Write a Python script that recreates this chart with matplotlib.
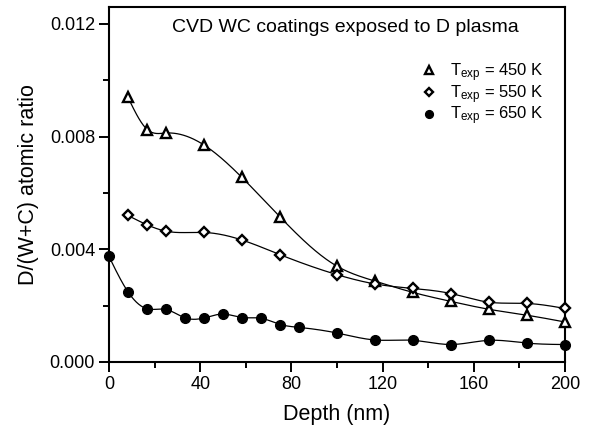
import numpy as np
import matplotlib
matplotlib.use("Agg")
import matplotlib.pyplot as plt

plt.rcParams['font.family'] = ['Liberation Sans', 'DejaVu Sans']
plt.rcParams['mathtext.fontset'] = 'custom'
plt.rcParams['mathtext.rm'] = 'Liberation Sans'
plt.rcParams['mathtext.it'] = 'Liberation Sans:italic'

# depth (nm) and D/(W+C) ratio
tri_depth = [8.3, 16.7, 25.0, 41.7, 58.3, 75.0, 100.0, 116.7, 133.3, 150.0, 166.7, 183.3, 200.0]
tri_ratio = [0.00940, 0.00825, 0.00813, 0.00770, 0.00655, 0.00515, 0.00340,
             0.00287, 0.00247, 0.00215, 0.00187, 0.00166, 0.00142]

dia_depth = [8.3, 16.7, 25.0, 41.7, 58.3, 75.0, 100.0, 116.7, 133.3, 150.0, 166.7, 183.3, 200.0]
dia_ratio = [0.00520, 0.00487, 0.00464, 0.00460, 0.00433, 0.00381, 0.00310,
             0.00277, 0.00261, 0.00243, 0.00212, 0.00208, 0.00190]

circ_depth = [0.0, 8.3, 16.7, 25.0, 33.3, 41.7, 50.0, 58.3, 66.7, 75.0, 83.3,
              100.0, 116.7, 133.3, 150.0, 166.7, 183.3, 200.0]
circ_ratio = [0.00375, 0.00249, 0.00188, 0.00188, 0.00156, 0.00156, 0.00171,
              0.00157, 0.00156, 0.00133, 0.00123, 0.00103, 0.00078, 0.00077,
              0.00062, 0.00077, 0.00067, 0.00062]

labels = [r'T$_{\rm exp}$ = 450 K', r'T$_{\rm exp}$ = 550 K', r'T$_{\rm exp}$ = 650 K']


def smooth_curve(x, y, lam, num=400):
    # penalised least squares (smoothing spline-ish) on a fine grid
    x = np.asarray(x, float)
    y = np.asarray(y, float) * 1e3
    xs = np.linspace(x.min(), x.max(), num)
    h = xs[1] - xs[0]
    A = np.zeros((len(x), num))
    for i, xi in enumerate(x):
        j = min(int((xi - xs[0]) / h), num - 2)
        t = (xi - xs[j]) / h
        A[i, j] = 1 - t
        A[i, j + 1] = t
    D = np.diff(np.eye(num), 2, axis=0) / h ** 2
    M = A.T @ A + lam * h * D.T @ D
    ys = np.linalg.solve(M, A.T @ y)
    return xs, ys / 1e3


fig = plt.figure(figsize=(5.93, 4.34), dpi=100)
ax = fig.add_axes([0.1838, 0.1659, 0.769, 0.818])

for d, r, lam in [(tri_depth, tri_ratio, 1.0), (dia_depth, dia_ratio, 5.0),
                  (circ_depth, circ_ratio, 3.0)]:
    xs, ys = smooth_curve(d, r, lam)
    ax.plot(xs, ys, color='black', lw=0.9, zorder=2)

ax.plot(tri_depth, tri_ratio, ls='none', marker='^', ms=7, mfc='white',
        mec='black', mew=1.7, label=labels[0], zorder=3, clip_on=False)
ax.plot(dia_depth, dia_ratio, ls='none', marker='D', ms=5.5, mfc='white',
        mec='black', mew=1.7, label=labels[1], zorder=3, clip_on=False)
ax.plot(circ_depth, circ_ratio, ls='none', marker='o', ms=7, mfc='black',
        mec='black', label=labels[2], zorder=3, clip_on=False)

ax.set_xlim(0, 200)
ax.set_ylim(0, 0.0126)
ax.set_xticks([0, 40, 80, 120, 160, 200])
ax.set_xticks(np.arange(20, 200, 40), minor=True)
ax.set_yticks([0.000, 0.004, 0.008, 0.012])
ax.set_yticklabels(['0.000', '0.004', '0.008', '0.012'])
ax.set_yticks([0.002, 0.006, 0.010], minor=True)
ax.tick_params(which='major', direction='out', length=7, width=1.4, labelsize=13, pad=3)
ax.tick_params(which='minor', direction='out', length=4.5, width=1.4)
for s in ax.spines.values():
    s.set_linewidth(1.5)

ax.set_xlabel('Depth (nm)', fontsize=15.5, labelpad=8)
ax.set_ylabel('D/(W+C) atomic ratio', fontsize=15.5, labelpad=8)

ax.text(0.138, 0.943, 'CVD WC coatings exposed to D plasma', transform=ax.transAxes,
        fontsize=14, va='center', ha='left')

ax.legend(frameon=False, loc='upper left', bbox_to_anchor=(0.683, 0.847),
          fontsize=12, markerscale=0.8, handlelength=1.0, handletextpad=0.8,
          labelspacing=-0.05, borderpad=0, borderaxespad=0)

fig.savefig('out.png', dpi=100)
